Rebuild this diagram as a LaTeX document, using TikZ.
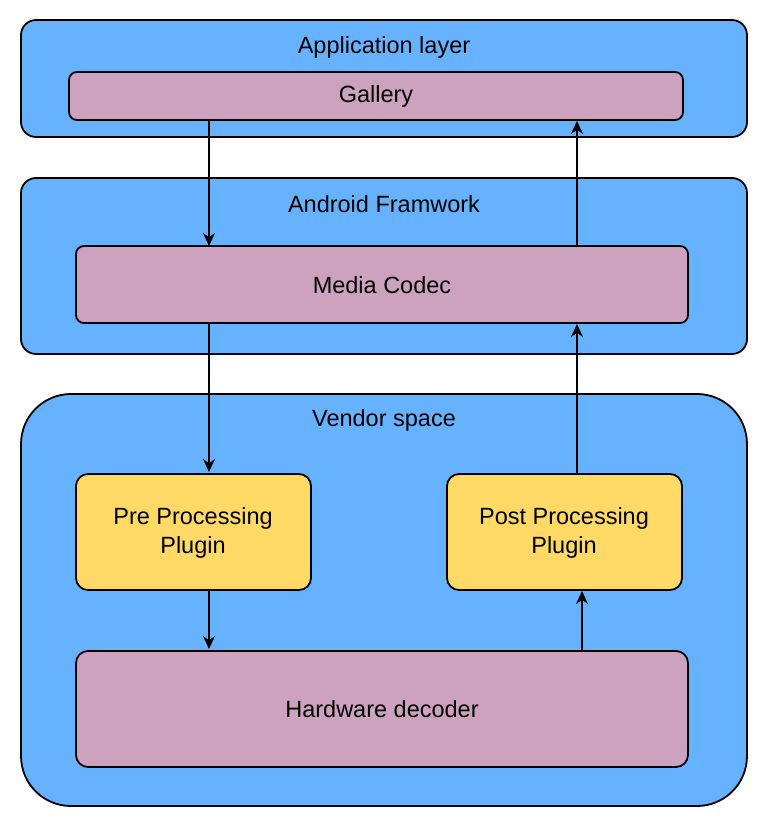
\documentclass[tikz,border=0pt]{standalone}
\usepackage{fontspec}
\setmainfont{Liberation Sans}
\usetikzlibrary{arrows.meta}
\begin{document}
\begin{tikzpicture}[x=1pt,y=-1pt,
  layer/.style={draw=black,line width=1.8pt,fill=blueL,rounded corners=15pt},
  box/.style={draw=black,line width=1.8pt,fill=purp,rounded corners=8pt},
  plug/.style={draw=black,line width=1.8pt,fill=yel,rounded corners=12pt},
  lbl/.style={font=\fontsize{23.5}{29}\selectfont,align=center},
  arr/.style={-{Stealth[length=13pt,width=12pt]},line width=1.8pt}]
\definecolor{blueL}{HTML}{66B2FF}
\definecolor{purp}{HTML}{CDA2BE}
\definecolor{yel}{HTML}{FFD966}
\useasboundingbox (0,0) rectangle (768,827);
\draw[layer] (21,20) rectangle (747,137);
\node[lbl] (tapp) at (384,47) {Application layer};
\draw[box] (69,72) rectangle (683,120);
\node[lbl] (gal) at (376,96) {Gallery};
\draw[layer] (21,178) rectangle (747,354);
\node[lbl] (tand) at (384,204) {Android Framwork};
\draw[box] (76,246) rectangle (688,323);
\node[lbl] (mc) at (382,285) {Media Codec};
\draw[layer,rounded corners=50pt] (21,394) rectangle (747,806);
\node[lbl] (tven) at (384,420) {Vendor space};
\draw[plug] (76,474) rectangle (311,590);
\node[lbl] (pre) at (193,533) {Pre Processing\\Plugin};
\draw[plug] (447,474) rectangle (682,590);
\node[lbl] (post) at (564,533) {Post Processing\\Plugin};
\draw[box,rounded corners=12pt] (76,651) rectangle (688,767);
\node[lbl] (hw) at (382,709) {Hardware decoder};
\coordinate (a1) at (209,121); \coordinate (a2) at (209,246);
\coordinate (b1) at (209,323); \coordinate (b2) at (209,472);
\coordinate (c1) at (209,590); \coordinate (c2) at (209,649);
\coordinate (d1) at (582,651); \coordinate (d2) at (582,591);
\coordinate (e1) at (577,474); \coordinate (e2) at (577,324);
\coordinate (f1) at (577,246); \coordinate (f2) at (577,121);
\draw[arr] (a1)--(a2); \draw[arr] (b1)--(b2); \draw[arr] (c1)--(c2);
\draw[arr] (d1)--(d2); \draw[arr] (e1)--(e2); \draw[arr] (f1)--(f2);
\end{tikzpicture}
\end{document}
